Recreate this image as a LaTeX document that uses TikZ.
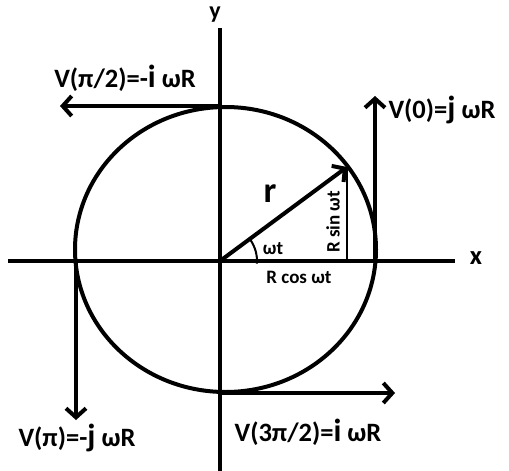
\documentclass[tikz,border=0pt]{standalone}
\usepackage{fontspec}
\setmainfont{Carlito}
\usetikzlibrary{arrows.meta}
\newcommand{\bigij}[1]{{\fontsize{32}{32}\selectfont #1}}
\begin{document}
\begin{tikzpicture}[x=1pt,y=-1pt,
  axis/.style={line width=3.2pt},
  vec/.style={line width=4pt,-{Straight Barb[length=9pt,width=20pt]}},
  lbl/.style={font=\bfseries\fontsize{26.5}{26.5}\selectfont, inner sep=0pt},
  small/.style={font=\bfseries\fontsize{19}{19}\selectfont, inner sep=0pt}]
\useasboundingbox (0,0) rectangle (509,471);
% axes
\coordinate (O) at (220,261);
\coordinate (xl) at (8,261);
\coordinate (xr) at (455,261);
\coordinate (yt) at (220,28);
\coordinate (yb) at (220,471);
\draw[axis] (xl) -- (xr);
\draw[axis] (yt) -- (yb);
\node[lbl] (xlab) at (476,258) {x};
\node[lbl, font=\bfseries\fontsize{24}{24}\selectfont, anchor=base] (ylab) at (215,18) {y};
% circle
\draw[line width=4pt] (225.5,249.5) ellipse [x radius=150.5pt, y radius=142.5pt];
% velocity vectors
\coordinate (a1) at (220,106);  \coordinate (a2) at (60,106);
\coordinate (b1) at (375,261);  \coordinate (b2) at (375,96);
\coordinate (c1) at (76,261);   \coordinate (c2) at (76,420);
\coordinate (d1) at (222,393);  \coordinate (d2) at (395,393);
\draw[vec] (a1) -- (a2);
\draw[vec] (b1) -- (b2);
\draw[vec] (c1) -- (c2);
\draw[vec] (d1) -- (d2);
% radius vector
\coordinate (P) at (347,167);
\coordinate (Pf) at (347,261);
\draw[vec] (O) -- (P);
\draw[line width=2pt] (P) -- (Pf);
\draw[line width=2pt] (O) ++(36:37pt) arc[start angle=36, end angle=-4, radius=37pt];
% labels
\node[lbl] (lpi2) at (125,78) {V(π/2)=-\bigij{i} ωR};
\node[lbl] (l0) at (442,110) {V(0)=\bigij{j} ωR};
\node[lbl] (lpi) at (77,438) {V(π)=-\bigij{j} ωR};
\node[lbl] (l3) at (308,432) {V(3π/2)=\bigij{i} ωR};
\node[font=\bfseries\fontsize{36}{36}\selectfont, inner sep=0pt] (rl) at (270,194) {r};
\node[small] (wt) at (273,249) {ωt};
\node[small] (rc) at (299,277) {R cos ωt};
\node[small, rotate=90] (rs) at (333,222) {R sin ωt};
\end{tikzpicture}
\end{document}
